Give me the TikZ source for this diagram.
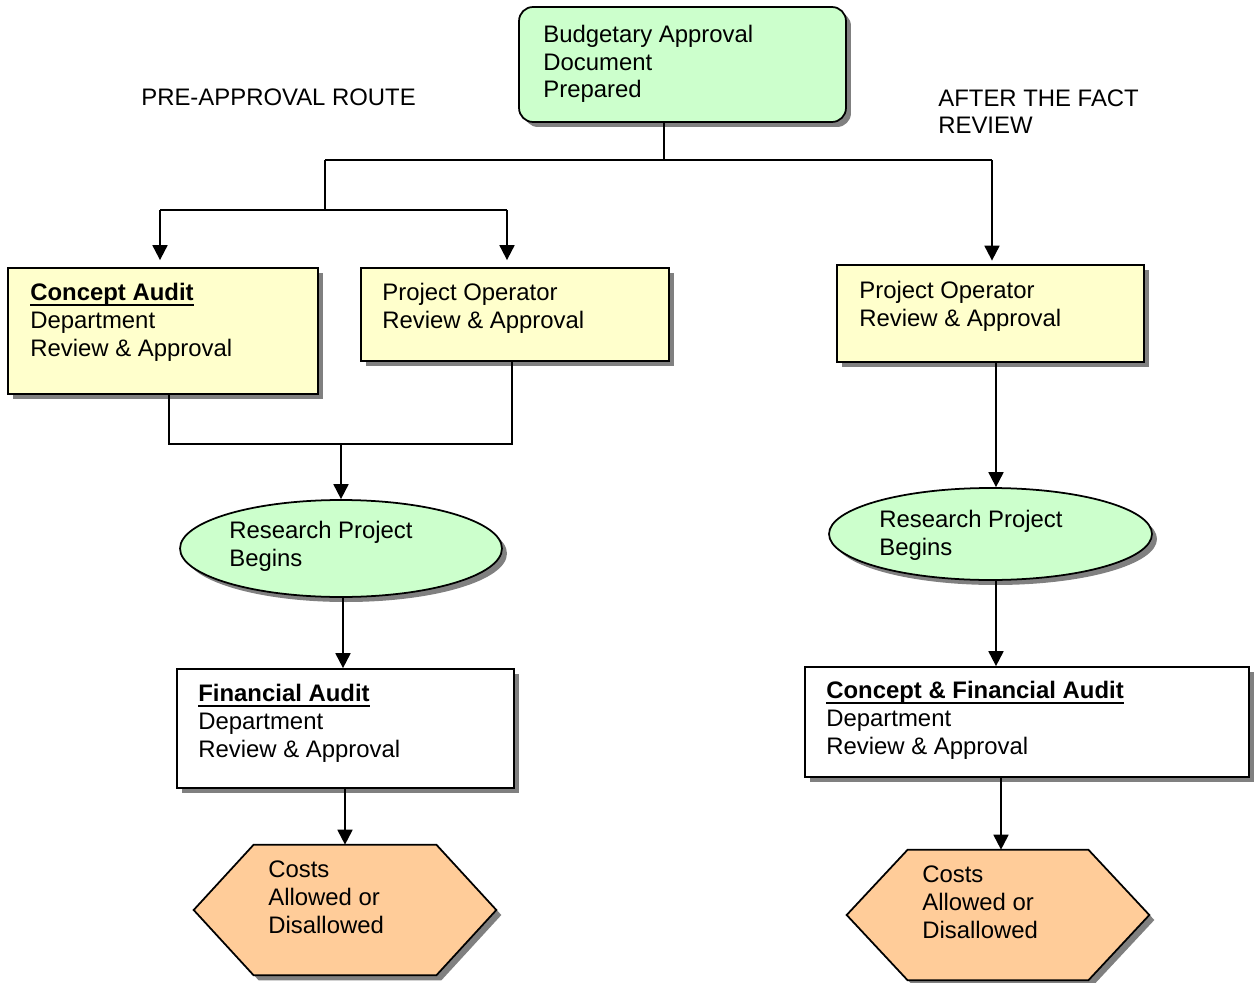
\documentclass[tikz,border=0pt]{standalone}
\usepackage{fontspec}
\setmainfont{Liberation Sans}
\usetikzlibrary{arrows.meta,shapes.geometric,shadows}
\definecolor{mint}{HTML}{CCFFCC}
\definecolor{cream}{HTML}{FFFFCC}
\definecolor{peach}{HTML}{FFCC99}
\newcommand\flowfont{\fontsize{13.6}{15.9}\selectfont}
% bold heading with a firm underline just below the baseline
\newsavebox\hdbox
\newcommand\hd[1]{\sbox\hdbox{\textbf{#1}}\rlap{\rule[-3.4pt]{\wd\hdbox}{1.1pt}}\usebox\hdbox}
\begin{document}
\begin{tikzpicture}[x=0.02cm, y=-0.02cm,
  boxshadow/.style={drop shadow={shadow xshift=2.85pt, shadow yshift=-2.85pt, fill=black!50, opacity=1}},
  stepbox/.style={draw, line width=1pt, inner sep=0pt, boxshadow},
  frame/.style={inner sep=0pt},
  hexfill/.style={draw, line width=1pt, fill=peach, boxshadow},
  conn/.style={line width=1.1pt},
  arr/.style={conn, -{Triangle[width=8.5pt,length=8.5pt]}},
  % multi-line labels are placed by the baseline of their last line
  lbl/.style={anchor=base west, align=left, inner sep=0pt, font=\flowfont}]
\fill[white] (0,0) rectangle (1254,983);
\useasboundingbox (0,0) rectangle (1254,983);

% shapes
\node[stepbox, fill=mint, rounded corners=0.28cm, minimum width=6.54cm, minimum height=2.3cm] (bud) at (682.5,64.5) {};
\node[stepbox, fill=cream, minimum width=6.2cm, minimum height=2.52cm] (ca) at (163,331) {};
\node[stepbox, fill=cream, minimum width=6.16cm, minimum height=1.86cm] (poL) at (515,314.5) {};
\node[stepbox, fill=cream, minimum width=6.14cm, minimum height=1.94cm] (poR) at (990.5,313.5) {};
\node[stepbox, ellipse, fill=mint, minimum width=6.44cm, minimum height=1.94cm] (elL) at (341,548.5) {};
\node[stepbox, ellipse, fill=mint, minimum width=6.46cm, minimum height=1.84cm] (elR) at (990.5,534) {};
\node[stepbox, fill=white, minimum width=6.74cm, minimum height=2.38cm] (fi) at (345.5,728.5) {};
\node[stepbox, fill=white, minimum width=8.88cm, minimum height=2.2cm] (cf) at (1027,722) {};

% hexagons
\node[frame, minimum width=6.04cm, minimum height=2.6cm] (hxL) at (345,910) {};
\path[hexfill] (hxL.west) -- ([xshift=1.2cm]hxL.north west) -- ([xshift=-1.2cm]hxL.north east)
  -- (hxL.east) -- ([xshift=-1.2cm]hxL.south east) -- ([xshift=1.2cm]hxL.south west) -- cycle;
\node[frame, minimum width=6.04cm, minimum height=2.6cm] (hxR) at (998,915) {};
\path[hexfill] (hxR.west) -- ([xshift=1.22cm]hxR.north west) -- ([xshift=-1.22cm]hxR.north east)
  -- (hxR.east) -- ([xshift=-1.22cm]hxR.south east) -- ([xshift=1.22cm]hxR.south west) -- cycle;

% connectors
\coordinate (t0) at (664,160);
\coordinate (tl) at (325,160);
\coordinate (tr) at (992,160);
\coordinate (ml) at (325,210);
\coordinate (a1) at (160,210);
\coordinate (a2) at (507,210);
\draw[conn] (bud.south -| t0) -- (t0);
\draw[conn] (tl) -- (tr);
\draw[conn] (tl) -- (ml);
\draw[conn] (a1) -- (a2);
\draw[arr, shorten >=4pt] (a1) -- (a1 |- ca.north);
\draw[arr, shorten >=4pt] (a2) -- (a2 |- poL.north);
\draw[arr, shorten >=2pt] (tr) -- (tr |- poR.north);

\coordinate (b1) at (169,444);
\coordinate (b2) at (512,444);
\coordinate (b0) at (341,444);
\draw[conn] (b1 |- ca.south) -- (b1) -- (b2) -- (b2 |- poL.south);
\draw[arr] (b0) -- (b0 |- elL.north);

\coordinate (c1) at (343,0);
\coordinate (c2) at (345,0);
\draw[arr] (c1 |- elL.south) -- (c1 |- fi.north);
\draw[arr] (c2 |- fi.south) -- (c2 |- hxL.north);

\coordinate (d1) at (996,0);
\coordinate (d2) at (1001,0);
\draw[arr] (d1 |- poR.south) -- (d1 |- elR.north);
\draw[arr] (d1 |- elR.south) -- (d1 |- cf.north);
\draw[arr] (d2 |- cf.south) -- (d2 |- hxR.north);

% texts
\node[lbl] (budT) at (543,98) {Budgetary Approval\\Document\\Prepared};
\node[lbl] (preT) at (141,106) {PRE-APPROVAL ROUTE};
\node[lbl] (aftT) at (938,134) {AFTER THE FACT\\REVIEW};
\node[lbl] (caT) at (30,356) {\hd{Concept Audit}\\Department\\Review \& Approval};
\node[lbl] (poLT) at (382,328) {Project Operator\\Review \& Approval};
\node[lbl] (poRT) at (859,326) {Project Operator\\Review \& Approval};
\node[lbl] (elLT) at (229,566) {Research Project\\Begins};
\node[lbl] (elRT) at (879,555) {Research Project\\Begins};
\node[lbl] (fiT) at (198,757) {\hd{Financial Audit}\\Department\\Review \& Approval};
\node[lbl] (cfT) at (826,754) {\hd{Concept \& Financial Audit}\\Department\\Review \& Approval};
\node[lbl] (hxLT) at (268,933) {Costs\\Allowed or\\Disallowed};
\node[lbl] (hxRT) at (922,938) {Costs\\Allowed or\\Disallowed};
\end{tikzpicture}
\end{document}
